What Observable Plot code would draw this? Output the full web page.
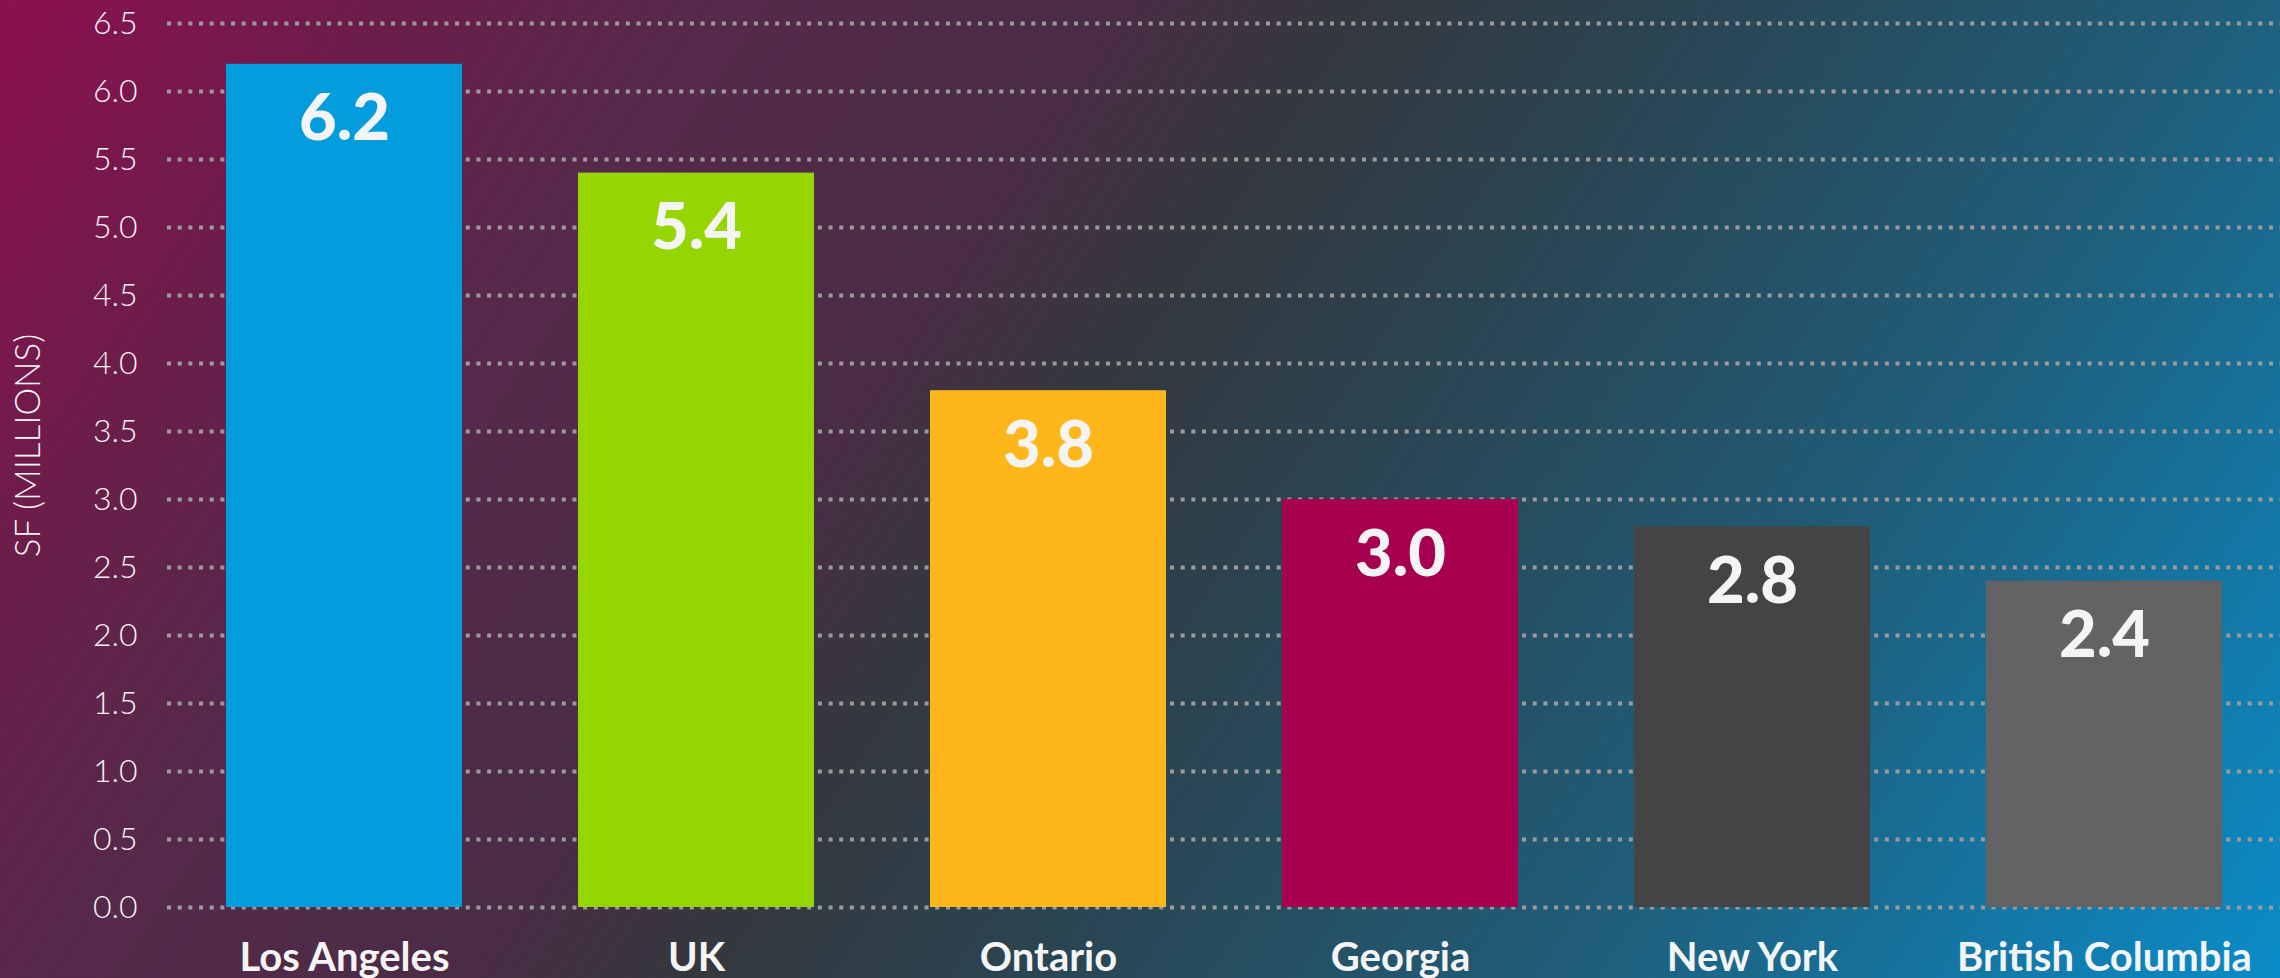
<!DOCTYPE html>
<html><head><meta charset="utf-8">
<script src="https://cdn.jsdelivr.net/npm/d3@7"></script>
<script src="https://cdn.jsdelivr.net/npm/@observablehq/plot@0.6"></script>
<style>
html,body{margin:0;padding:0;background:#333a3e;overflow:hidden;}
#chart{width:2280px;height:978px;background:linear-gradient(124deg,#8c1050 0%,#6a1e4a 14%,#56294a 24%,#4a2c45 38%,#34383e 46%,#2a4553 58%,#1f5e7a 76%,#0a8cc8 100%);}
#chart svg{display:block;}
</style></head><body><div id="chart"></div><script>
const regions = ["Los Angeles","UK","Ontario","Georgia","New York","British Columbia"];
const values = [6.2, 5.4, 3.8, 3.0, 2.8, 2.4];
const barColors = ["#039ddd","#95d600","#fdb71b","#a6004e","#444444","#636363"];
const yTicks = [0,0.5,1,1.5,2,2.5,3,3.5,4,4.5,5,5.5,6,6.5];
const yTitle = "SF (MILLIONS)";

const data = regions.map((r,i)=>({region:r, value:values[i], color:barColors[i]}));

const chart = Plot.plot({
  width: 2280,
  height: 978,
  marginLeft: 167,
  marginRight: 0,
  marginTop: 23,
  marginBottom: 71,
  style: {fontFamily: "Lato, 'Open Sans', sans-serif", color: "#f4f4f4", background: "transparent"},
  x: {domain: regions, paddingInner: 0.33, paddingOuter: 0.165, label: null},
  y: {domain: [0, 6.5], label: null},
  marks: [
    Plot.gridY(yTicks, {stroke: "#9b9b9b", strokeOpacity: 1, strokeWidth: 4, strokeDasharray: "4,6.67"}),
    Plot.barY(data, {x: "region", y: "value", fill: "color"}),
    Plot.text(data, {x: "region", y: "value", text: d => d.value.toFixed(1), lineAnchor: "bottom", dy: 76, fill: "#f4f4f4", fontSize: 65, fontWeight: 900}),
    Plot.axisY(yTicks, {tickSize: 0, tickPadding: 30, tickFormat: d => d.toFixed(1), fontSize: 32, fontWeight: 300, fill: "#f4f4f4", label: null}),
    Plot.axisX({tickSize: 0, tickPadding: 35, fontSize: 40, fontWeight: 700, fill: "#f4f4f4", label: null}),
    Plot.text([yTitle], {frameAnchor: "left", textAnchor: "middle", rotate: -90, dx: -139, dy: -20, fontSize: 35, fontWeight: 300, fill: "#f4f4f4"})
  ]
});
document.getElementById("chart").append(chart);
</script></body></html>
